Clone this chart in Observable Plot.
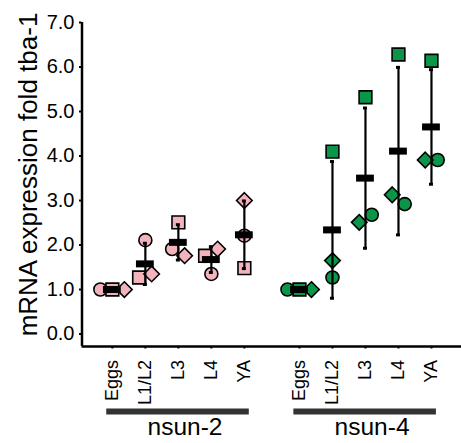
<!DOCTYPE html>
<html>
<head>
<meta charset="utf-8">
<script src="https://cdn.jsdelivr.net/npm/d3@7"></script>
<script src="https://cdn.jsdelivr.net/npm/@observablehq/plot@0.6"></script>
<style>
  html, body { margin: 0; padding: 0; background: #fff; }
  svg { display: block; }
</style>
</head>
<body>
<div id="chart"></div>
<script>
// ---- data ----
const groups = ["nsun-2", "nsun-4"];
const stages = ["Eggs", "L1/L2", "L3", "L4", "YA"];
const yTicks = [0, 1, 2, 3, 4, 5, 6, 7];
const yTitle = "mRNA expression fold tba-1";

const nsun2Circle  = [1.0, 2.11, 1.91, 1.35, 2.21];
const nsun2Square  = [1.0, 1.27, 2.51, 1.76, 1.48];
const nsun2Diamond = [1.0, 1.35, 1.76, 1.91, 3.00];

const nsun4Circle  = [1.0, 1.27, 2.68, 2.92, 3.91];
const nsun4Square  = [1.0, 4.10, 5.32, 6.28, 6.14];
const nsun4Diamond = [1.0, 1.65, 2.51, 3.13, 3.91];

const groupColors = ["#f3b3bd", "#0b9548"];

// ---- layout ----
const W = 461, H = 443;
const mL = 81.5, mR = 0, mT = 22, mB = 97;
const groupGap = 5.67;         // x-units between the first stage of each group
const xMin = -0.92, xMax = 10.58;
const yMin = -0.28, yMax = 7.0;
const pxPerX = (W - mL - mR) / (xMax - xMin);
const yFromPx = p => yMin + ((H - mB) - p) * (yMax - yMin) / ((H - mB) - mT);

const seriesByGroup = {
  "nsun-2": {circle: nsun2Circle, square: nsun2Square, diamond2: nsun2Diamond},
  "nsun-4": {circle: nsun4Circle, square: nsun4Square, diamond2: nsun4Diamond}
};
const pairOrder = {"nsun-2": ["circle", "square", "diamond2"], "nsun-4": ["diamond2", "square", "circle"]};
const tripleOrder = ["circle", "square", "diamond2"];

const points = [], summary = [], tickPos = [], tickLabel = new Map();
groups.forEach((g, gi) => {
  stages.forEach((s, si) => {
    const pos = gi * groupGap + si;
    tickPos.push(pos); tickLabel.set(pos, s);
    const pts = Object.entries(seriesByGroup[g]).map(([shape, arr]) => ({group: g, stage: s, shape, value: arr[si], pos, color: groupColors[gi]}));
    // cluster overlapping points (single linkage) and dodge horizontally
    const sorted = [...pts].sort((a, b) => a.value - b.value);
    const clusters = [[sorted[0]]];
    for (let k = 1; k < sorted.length; k++) {
      const last = clusters[clusters.length - 1];
      if (sorted[k].value - last[last.length - 1].value < 0.3) last.push(sorted[k]);
      else clusters.push([sorted[k]]);
    }
    for (const c of clusters) {
      if (c.length === 1) { c[0].off = 0; continue; }
      const order = c.length === 3 ? tripleOrder : pairOrder[g];
      c.sort((a, b) => order.indexOf(a.shape) - order.indexOf(b.shape));
      const spacing = c.length === 3 ? 12 : 12.5;
      c.forEach((p, k) => { p.off = (k - (c.length - 1) / 2) * spacing / pxPerX; });
    }
    pts.forEach(p => { p.x = p.pos + p.off; points.push(p); });
    const vals = pts.map(p => p.value);
    const mean = d3.mean(vals), sd = d3.deviation(vals);
    summary.push({group: g, stage: s, pos, mean, lo: mean - sd, hi: mean + sd});
  });
});

const groupBars = groups.map((g, gi) => ({group: g, x1: gi * groupGap - 0.17, x2: gi * groupGap + 4.15, xc: gi * groupGap + 2.2}));

const font = "'Liberation Sans', Arial, sans-serif";
const barY = yFromPx(411);
const labelY = yFromPx(427);

const chart = Plot.plot({
  width: W, height: H,
  marginLeft: mL, marginRight: mR, marginTop: mT, marginBottom: mB,
  style: {fontFamily: font, color: "#000", background: "#fff"},
  x: {domain: [xMin, xMax], axis: null},
  y: {domain: [yMin, yMax], axis: null},
  marks: [
    // axes lines
    Plot.ruleY([yMin], {stroke: "#000", strokeWidth: 2.5}),
    Plot.ruleX([xMin], {y1: yMin, y2: yMax, stroke: "#000", strokeWidth: 2.5}),
    Plot.axisY(yTicks, {anchor: "left", tickFormat: d3.format(".1f"), fontSize: 20, tickSize: 2.5, tickPadding: 5, strokeWidth: 2, label: null}),
    Plot.axisX(tickPos, {anchor: "bottom", tickFormat: d => tickLabel.get(d), tickRotate: -90, fontSize: 18, tickSize: 2.5, tickPadding: 11, strokeWidth: 2, label: null}),
    // points
    Plot.dot(points.filter(d => d.shape === "circle"), {x: "x", y: "value", symbol: "circle", r: 6.5, fill: "color", stroke: "#000", strokeWidth: 1.6}),
    Plot.dot(points.filter(d => d.shape === "square"), {x: "x", y: "value", symbol: "square", r: 7.2, fill: "color", stroke: "#000", strokeWidth: 1.6}),
    Plot.dot(points.filter(d => d.shape === "diamond2"), {x: "x", y: "value", symbol: "diamond2", r: 7, fill: "color", stroke: "#000", strokeWidth: 1.6}),
    // error bars (mean ± SD)
    Plot.ruleX(summary, {x: "pos", y1: "lo", y2: "hi", stroke: "#000", strokeWidth: 2.2}),
    Plot.ruleY(summary, {y: "lo", x1: d => d.pos - 0.06, x2: d => d.pos + 0.06, stroke: "#000", strokeWidth: 3}),
    Plot.ruleY(summary, {y: "hi", x1: d => d.pos - 0.06, x2: d => d.pos + 0.06, stroke: "#000", strokeWidth: 3}),
    // mean bars
    Plot.ruleY(summary, {y: "mean", x1: d => d.pos - 0.27, x2: d => d.pos + 0.27, stroke: "#000", strokeWidth: 7}),
    // group bars and labels
    Plot.ruleY(groupBars, {y: barY, x1: "x1", x2: "x2", stroke: "#333", strokeWidth: 6}),
    Plot.text(groupBars, {x: "xc", y: labelY, text: "group", fontSize: 24.5, fill: "#000"}),
    // y title
    Plot.text([yTitle], {frameAnchor: "left", textAnchor: "middle", rotate: -90, dx: -53, dy: -10, fontSize: 26, fill: "#000"})
  ]
});
document.getElementById("chart").appendChild(chart);
</script>
</body>
</html>
